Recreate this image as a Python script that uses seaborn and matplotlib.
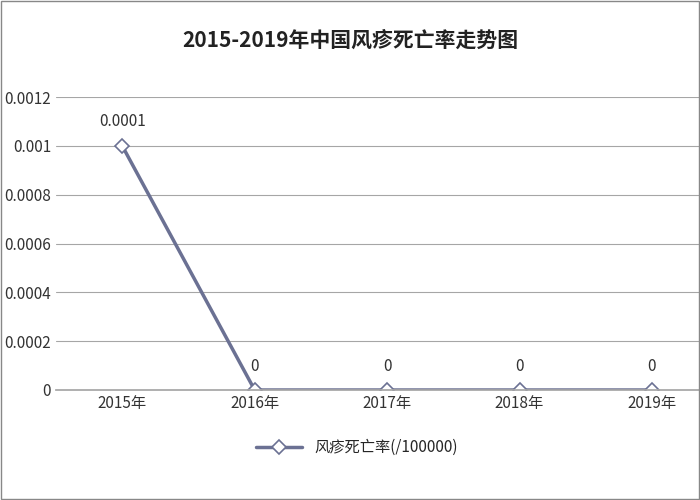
import matplotlib
matplotlib.use("Agg")
import matplotlib.pyplot as plt
import seaborn as sns
import pandas as pd
from matplotlib.ticker import FuncFormatter

years = ["2015年", "2016年", "2017年", "2018年", "2019年"]
rates = [0.001, 0, 0, 0, 0]
labels = ["0.0001", "0", "0", "0", "0"]
series_name = "风疹死亡率(/100000)"

sns.set_theme(style="white")
plt.rcParams['font.family'] = ['Noto Sans CJK SC', 'DejaVu Sans']

df = pd.DataFrame({"year": years, "rate": rates})
fig = plt.figure(figsize=(7, 5), dpi=100)
ax = fig.add_axes([0.08, 0.22, 0.946, 0.586])
color = "#6B7193"
sns.lineplot(data=df, x="year", y="rate", ax=ax, color=color, linewidth=2.5,
             marker="D", markersize=7, markerfacecolor="white",
             markeredgecolor=color, markeredgewidth=1.2, label=series_name, sort=False)
ax.set_ylim(0, 0.0012)
ax.set_yticks([i * 0.0002 for i in range(7)])
ax.yaxis.set_major_formatter(FuncFormatter(lambda v, p: "0" if abs(v) < 1e-12 else f"{v:.4f}".rstrip("0")))
ax.set_xlim(-0.5, 4.5)
ax.grid(axis="y", color="#A6A6A6", linewidth=0.8)
for s in ["top", "right", "left"]:
    ax.spines[s].set_visible(False)
ax.spines["bottom"].set_color("#A6A6A6")
ax.set_xlabel(""); ax.set_ylabel("")
ax.tick_params(axis="both", labelsize=11, colors="#333333", length=0)
for i, (v, t) in enumerate(zip(rates, labels)):
    ax.annotate(t, (i, v), xytext=(0, 14), textcoords="offset points",
                ha="center", fontsize=11, color="#333333")
leg = ax.legend(loc="upper center", bbox_to_anchor=(0.5 * 0.86 / 0.946, -0.12), frameon=False,
                fontsize=11, handlelength=3)
fig.text(0.5, 0.92, "2015-2019年中国风疹死亡率走势图", ha="center", va="center",
         fontsize=15, fontweight="bold", color="#222222")
fig.patches.append(plt.Rectangle((0.002, 0.002), 0.996, 0.996, transform=fig.transFigure,
                                 fill=False, edgecolor="#888888", linewidth=1))
fig.savefig("out.png", dpi=100)
